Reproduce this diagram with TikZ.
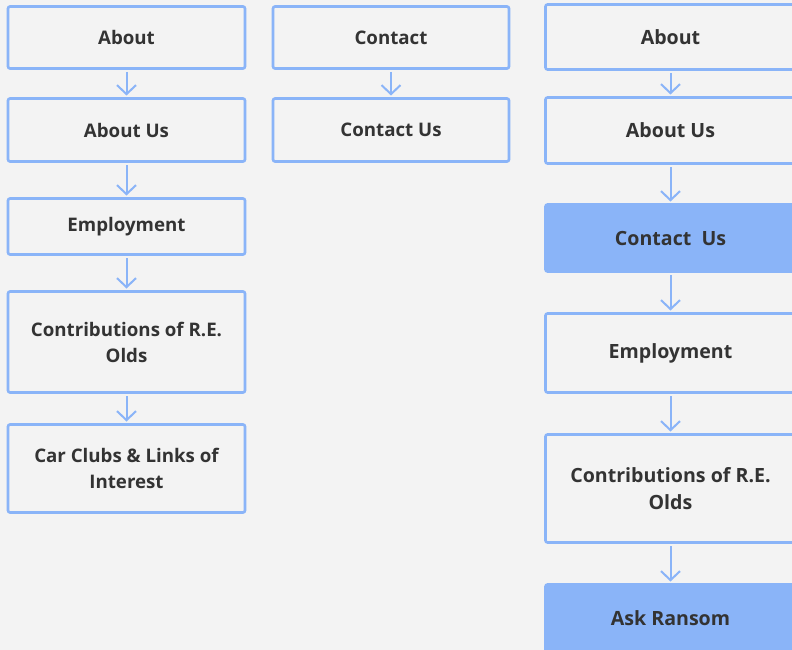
\documentclass[tikz,border=0pt]{standalone}
\usepackage{fontspec}
\setmainfont{Open Sans}
\usepackage{xcolor}
\usepackage{tikz}
\usetikzlibrary{positioning,arrows.meta}
\definecolor{pagebg}{HTML}{F3F3F3}
\definecolor{edgeblue}{HTML}{8AB4F8}
\definecolor{inkgray}{HTML}{333333}
\begin{document}
\begin{tikzpicture}[x=1pt, y=-1pt, every node/.style={font=\fontsize{18.7}{26}\selectfont\bfseries, text=inkgray}, box/.style={draw=edgeblue, line width=2.6pt, fill=pagebg, rounded corners=2pt, align=center, outer sep=0pt, minimum width=237pt}, wide/.style={box, minimum width=250pt, font=\fontsize{19.6}{27}\selectfont\bfseries}, hit/.style={wide, fill=edgeblue}, link/.style={-{Straight Barb[length=9pt,width=19pt]}, draw=edgeblue, line width=2pt, shorten <=3.5pt, shorten >=3pt}]
\fill[pagebg] (0,0) rectangle (792,650);
\useasboundingbox (0,0) rectangle (792,650);
\node[box, minimum height=62pt] (abt) at (126.5,37.5) {About};
\node[box, minimum height=63pt, below=30pt of abt] (abtus) {About Us};
\node[box, minimum height=56pt, below=37pt of abtus] (emp) {Employment};
\node[box, minimum height=101pt, below=37pt of emp] (contrib) {Contributions of R.E.\\Olds};
\node[box, minimum height=88pt, below=32pt of contrib] (clubs) {Car Clubs \& Links of\\Interest};
\node[box, minimum height=62pt, minimum width=236pt] (contact) at (391,37.5) {Contact};
\node[box, minimum height=63pt, minimum width=236pt, below=30pt of contact] (contactus) {Contact Us};
\node[wide, minimum height=65pt] (rabt) at (670.5,37) {About};
\node[wide, minimum height=66pt, below=28pt of rabt] (rabtus) {About Us};
\node[hit, minimum height=67pt, below=41pt of rabtus] (rcontact) {Contact\ \ Us};
\node[wide, minimum height=79pt, below=42pt of rcontact] (remp) {Employment};
\node[wide, minimum height=108pt, below=42pt of remp] (rcontrib) {Contributions of R.E.\\Olds};
\node[hit, minimum height=67pt, below=42pt of rcontrib] (ransom) {Ask Ransom};
\draw[link] (abt)--(abtus); \draw[link] (abtus)--(emp); \draw[link] (emp)--(contrib); \draw[link] (contrib)--(clubs);
\draw[link] (contact)--(contactus);
\draw[link] (rabt)--(rabtus); \draw[link] (rabtus)--(rcontact); \draw[link] (rcontact)--(remp); \draw[link] (remp)--(rcontrib); \draw[link] (rcontrib)--(ransom);
\end{tikzpicture}
\end{document}
